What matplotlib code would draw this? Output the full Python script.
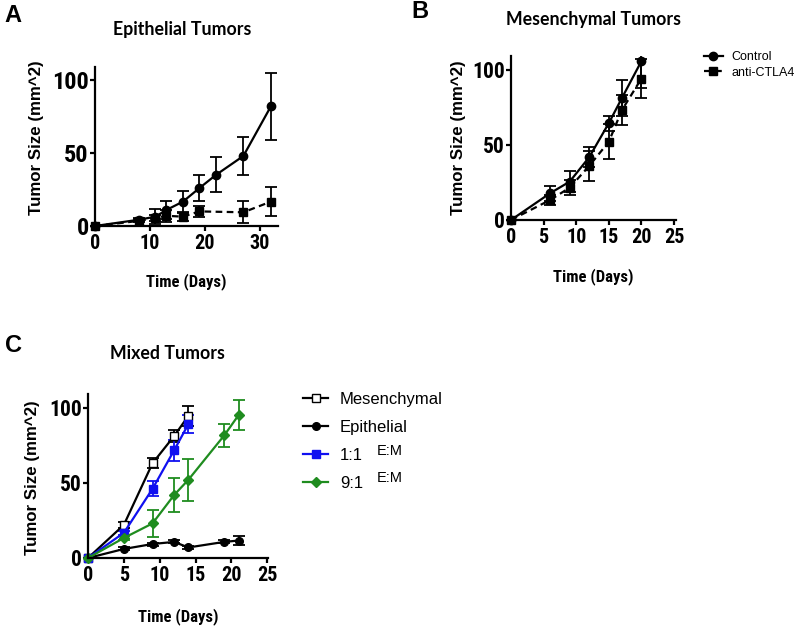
import numpy as np
import matplotlib.pyplot as plt
from matplotlib import font_manager as fm

# Panel A - epithelial tumors
a_days_ctrl = [0, 8, 11, 13, 16, 19, 22, 27, 32]
a_ctrl = [0, 4.3, 6.4, 11, 16.7, 26, 35, 48, 82]
a_ctrl_err = [0, 1, 5, 6, 7.5, 9, 12, 13, 23]
a_days_anti = [0, 8, 11, 13, 16, 19, 27, 32]
a_anti = [0, 3.5, 5.5, 7, 6.4, 10, 9.4, 16.7]
a_anti_err = [0, 1, 2, 4, 3, 3.5, 7.5, 10]

# Panel B - mesenchymal tumors
b_days = [0, 6, 9, 12, 15, 17, 20]
b_ctrl = [0, 17.8, 25.5, 41.8, 64.4, 81, 105.6]
b_ctrl_err = [0, 5, 7, 6.5, 5, 12, 18]
b_anti = [0, 13.3, 21.5, 36, 52, 73, 94]
b_anti_err = [0, 3, 5, 10, 11.5, 10, 13]

# Panel C - mixed tumors
c_days_mes = [0, 5, 9, 12, 14]
c_mes = [0, 22, 63, 81, 94.5]
c_mes_err = [0, 2, 3.5, 4, 6.5]
c_days_epi = [0, 5, 9, 12, 14, 19, 21]
c_epi = [0, 6, 9.3, 10.7, 7, 10.7, 11.6]
c_epi_err = [0, 1, 1, 1, 1, 1, 3]
c_days_11 = [0, 5, 9, 12, 14]
c_11 = [0, 16.7, 46, 71.5, 89]
c_11_err = [0, 1.5, 5, 7, 6]
c_days_91 = [0, 5, 9, 12, 14, 19, 21]
c_91 = [0, 13.3, 23, 41.8, 52, 81.5, 95]
c_91_err = [0, 1.5, 9, 11.5, 14, 7.5, 10]

W, H = 800, 626
BLUE = '#1010f0'
GREEN = '#1f8c1f'
ARIAL = ['Liberation Sans', 'DejaVu Sans']
TITLE = ['Lato', 'DejaVu Sans']


def find_narrow():
    # look for a condensed bold face, the graph uses one for numbers
    best = None
    for f in fm.fontManager.ttflist:
        w = f.weight if isinstance(f.weight, int) else (700 if 'bold' in str(f.weight) else 400)
        narrow = ('Narrow' in f.name or 'Condensed' in f.name
                  or 'condensed' in str(f.stretch))
        if narrow and w >= 600 and f.style == 'normal':
            rank = 0 if 'Liberation' in f.name else (1 if 'Roboto' in f.name else 2)
            if best is None or rank < best[0]:
                best = (rank, f.fname)
    return best[1] if best else None


NARROW_FILE = find_narrow()


def narrow(size):
    if NARROW_FILE:
        return fm.FontProperties(fname=NARROW_FILE, size=size)
    return fm.FontProperties(family='Roboto', weight='bold', size=size)


def fx(x):
    return x / W


def fy(y):
    return 1 - y / H


def make_axes(fig, x0, x1, y0, y1, xmax, xticks, ysize=15.5):
    # x0,x1 = pixel columns of axes, y0 = pixel row of y=0, y1 = top
    ax = fig.add_axes([fx(x0), fy(y0), (x1 - x0) / W, (y0 - y1) / H])
    ax.set_xlim(0, xmax)
    ax.set_ylim(0, 109)
    for s in ['top', 'right']:
        ax.spines[s].set_visible(False)
    for s in ['left', 'bottom']:
        ax.spines[s].set_linewidth(1.6)
    ax.set_xticks(xticks, labels=[str(t) for t in xticks],
                  fontproperties=narrow(14.5))
    ax.set_yticks([0, 50, 100], labels=['0', '50', '100'],
                  fontproperties=narrow(ysize))
    ax.tick_params(width=1.6, length=3.5, direction='out')
    ax.tick_params(axis='y', pad=1)
    ax.tick_params(axis='x', pad=2.5)
    return ax


def series(ax, x, y, err, color='black', marker='o', ls='-', mfc=None, ms=6):
    eb = ax.errorbar(x, y, yerr=err, color=color, marker=marker, ls=ls,
                     lw=1.6, ms=ms, mfc=mfc if mfc else color, mec=color,
                     capsize=4, capthick=1.3, elinewidth=1.3, clip_on=False)
    for part in eb.lines[1] + eb.lines[2]:
        part.set_clip_on(True)
    return eb[0]


fig = plt.figure(figsize=(8, 6.26), dpi=100)

# ---- A
axA = make_axes(fig, 95, 278, 226, 67, 33.3, [0, 10, 20, 30], ysize=17.5)
series(axA, a_days_ctrl, a_ctrl, a_ctrl_err, marker='o')
series(axA, a_days_anti, a_anti, a_anti_err, marker='s', ls=(0, (3, 2)), ms=5.5)

# ---- B
axB = make_axes(fig, 511, 676, 220, 56, 25.3, [0, 5, 10, 15, 20, 25])
hb1 = series(axB, b_days, b_ctrl, b_ctrl_err, marker='o')
hb2 = series(axB, b_days, b_anti, b_anti_err, marker='s', ls=(0, (3, 2)), ms=5.5)

# ---- C
axC = make_axes(fig, 88, 268, 558, 394, 25.1, [0, 5, 10, 15, 20, 25])
hc1 = series(axC, c_days_mes, c_mes, c_mes_err, marker='s', mfc='white', ms=6)
hc2 = series(axC, c_days_epi, c_epi, c_epi_err, marker='o', ms=5.5)
hc3 = series(axC, c_days_11, c_11, c_11_err, color=BLUE, marker='s', ms=5.5)
hc4 = series(axC, c_days_91, c_91, c_91_err, color=GREEN, marker='D', ms=5.5)

# panel letters
for letter, (x, y) in zip('ABC', [(13, 16), (420, 11), (13, 345)]):
    fig.text(fx(x), fy(y), letter, family=ARIAL, fontweight='bold',
             fontsize=17, ha='center', va='center')

# titles
for t, (x, y) in zip(['Epithelial Tumors', 'Mesenchymal Tumors', 'Mixed Tumors'],
                     [(182, 29), (593, 20), (167, 353)]):
    fig.text(fx(x), fy(y), t, family=TITLE, fontweight='bold', fontsize=12.8,
             ha='center', va='center')

# y labels
for (x, y) in [(37, 138), (458, 138), (33, 478)]:
    fig.text(fx(x), fy(y), 'Tumor Size (mm^2)', family=ARIAL, fontweight='bold',
             fontsize=12.2, rotation=90, ha='center', va='center')

# x labels
for (x, y) in [(186, 282), (593, 277), (178, 617)]:
    fig.text(fx(x), fy(y), 'Time (Days)', fontproperties=narrow(12),
             ha='center', va='center')

# legends
fig.legend([hb1, hb2], ['Control', 'anti-CTLA4'], loc='upper left',
           bbox_to_anchor=(fx(704), fy(51)), frameon=False, borderpad=0,
           borderaxespad=0, handlelength=1.5, handletextpad=0.7,
           labelspacing=0.3, prop={'family': ARIAL, 'size': 9})
fig.legend([hc1, hc2, hc3, hc4], ['Mesenchymal', 'Epithelial', '1:1', '9:1'],
           loc='upper left', bbox_to_anchor=(fx(303), fy(392)), frameon=False,
           borderpad=0, borderaxespad=0, handlelength=1.5, handletextpad=0.72,
           labelspacing=0.78, prop={'family': ARIAL, 'size': 12})
for y in [451, 478]:
    fig.text(fx(377), fy(y), 'E:M', family=ARIAL, fontsize=10.5, ha='left',
             va='center')

plt.savefig('out.png', dpi=100)
